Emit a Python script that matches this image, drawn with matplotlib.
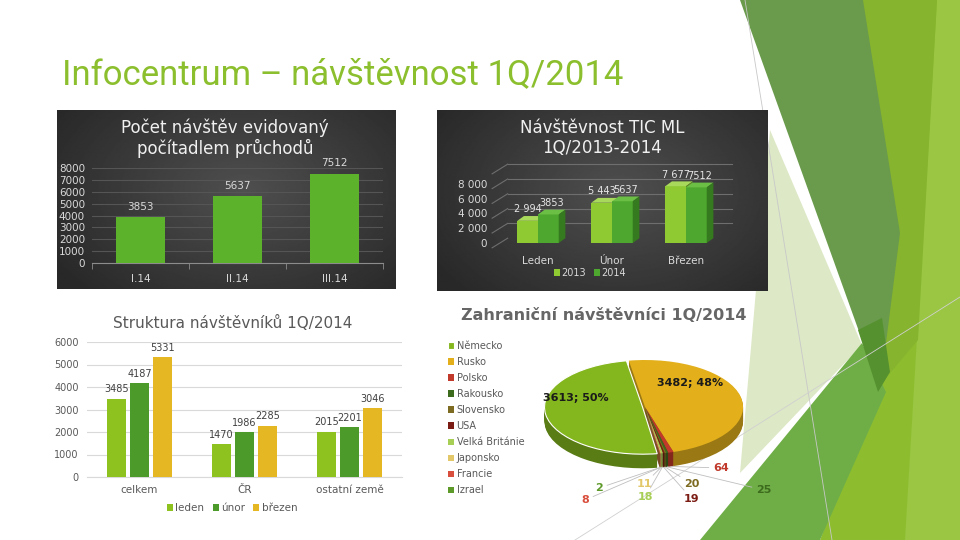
import numpy as np
import matplotlib.pyplot as plt
from matplotlib.patches import Polygon
from matplotlib.colors import to_rgb

W, H = 960, 540

# data ---------------------------------------------------------------
months_1 = ['I.14', 'II.14', 'III.14']
counter_visits = [3853, 5637, 7512]

months_2 = ['Leden', 'Únor', 'Březen']
tic_2013 = [2994, 5443, 7677]
tic_2014 = [3853, 5637, 7512]

groups_3 = ['celkem', 'ČR', 'ostatní země']
struct_leden = [3485, 1470, 2015]
struct_unor = [4187, 1986, 2201]
struct_brezen = [5331, 2285, 3046]

countries = ['Německo', 'Rusko', 'Polsko', 'Rakousko', 'Slovensko', 'USA',
             'Velká Británie', 'Japonsko', 'Francie', 'Izrael']
foreign = [3613, 3482, 64, 25, 20, 19, 18, 11, 8, 2]

# styles / layout ----------------------------------------------------
pie_colors = ['#84b61e', '#e3b01c', '#c0392b', '#3d6b1e', '#7d6b21', '#7b1c14',
              '#a8cf55', '#e3c869', '#d94f3d', '#5e9a2a']
# positions of the small pie labels in slide pixels
small_label_px = [(713, 468), (756, 490), (684, 484), (684, 499),
                  (653, 497), (652, 484), (589, 500), (603, 488)]

# decorative theme shapes (slide pixels)
deco = [
    ([(860, 0), (960, 0), (960, 540), (820, 540), (880, 385)], '#8dbd2f', 1.0),
    ([(937, 0), (960, 0), (960, 540), (905, 540)], '#9ac643', 1.0),
    ([(863, 0), (937, 0), (918, 340), (880, 385)], '#86b42e', 1.0),
    ([(740, 0), (863, 0), (900, 233), (880, 390)], '#6a9a4c', 1.0),
    ([(770, 130), (862, 345), (740, 473)], '#dde8c6', 1.0),
    ([(700, 540), (862, 343), (886, 392), (820, 540)], '#6fae47', 1.0),
    ([(858, 330), (882, 318), (890, 372), (878, 392)], '#55922f', 1.0),
]


def rect(x0, y0, x1, y1):
    return [x0 / W, 1 - y1 / H, (x1 - x0) / W, (y1 - y0) / H]


def darken(c, f):
    return tuple(np.array(to_rgb(c)) * f)


def dark_box(x0, y0, x1, y1):
    ax = fig.add_axes(rect(x0, y0, x1, y1))
    yy, xx = np.mgrid[0:1:200j, 0:1:300j]
    r = np.sqrt(((xx - 0.55) / 0.65) ** 2 + ((yy - 0.45) / 0.8) ** 2)
    ax.imshow(0.31 - 0.15 * np.clip(r, 0, 1), cmap='gray', vmin=0, vmax=1,
              aspect='auto', extent=(0, 1, 0, 1))
    ax.axis('off')
    return ax


fig = plt.figure(figsize=(9.6, 5.4), dpi=100)

# background with theme shapes
bg = fig.add_axes([0, 0, 1, 1])
bg.set_xlim(0, W)
bg.set_ylim(H, 0)
bg.axis('off')
for pts, col, a in deco:
    bg.add_patch(Polygon(pts, closed=True, fc=col, ec='none', alpha=a))
bg.plot([745, 832], [0, 540], color='#c8c8c8', lw=0.6)
bg.plot([575, 960], [540, 297], color='#d0d0d0', lw=0.6)

fig.text(62 / W, 1 - 75 / H, 'Infocentrum – návštěvnost 1Q/2014', fontsize=25,
         color='#8cbf2e', va='center', family=['Roboto', 'DejaVu Sans'])

# chart 1 ------------------------------------------------------------
dark_box(57, 110, 395, 289)
ax1 = fig.add_axes(rect(92, 168, 383, 263))
ax1.patch.set_alpha(0)
x = np.arange(len(months_1))
b1 = ax1.bar(x, counter_visits, width=0.5, color='#5db22c', zorder=3)
ax1.set_xlim(-0.5, 2.5)
ax1.set_ylim(0, 8000)
ax1.set_yticks(range(0, 8001, 1000))
ax1.yaxis.grid(True, color='#555555', lw=0.8)
ax1.set_axisbelow(True)
for s in ['top', 'right', 'left']:
    ax1.spines[s].set_visible(False)
ax1.spines['bottom'].set_color('#8c8c8c')
ax1.set_xticks(x, months_1)
ax1.set_xticks([-0.5, 0.5, 1.5, 2.5], minor=True)
ax1.tick_params(axis='y', length=0, colors='#d9d9d9', labelsize=7.5, pad=5)
ax1.tick_params(axis='x', length=0, colors='#d9d9d9', labelsize=7.5, pad=8)
ax1.tick_params(axis='x', which='minor', length=4, color='#8c8c8c')
ax1.bar_label(b1, padding=4, color='#d9d9d9', fontsize=7.5)
fig.text(225 / W, 1 - 138 / H, 'Počet návštěv evidovaný\npočítadlem průchodů',
         ha='center', va='center', fontsize=12, color='#f0f0f0', linespacing=1.1)

# chart 2 ------------------------------------------------------------
dark_box(437, 110, 768, 291)
ax2 = fig.add_axes(rect(501, 169, 723, 243))
ax2.patch.set_alpha(0)
ax2.set_xlim(-0.5, 2.5)
ax2.set_ylim(0, 10000)
w, dx, dy = 0.28, 0.09, 650
for v in range(0, 10001, 2000):
    ax2.plot([-0.62, -0.5 + dx], [v - dy, v + dy], color='#6e6e6e', lw=0.8, clip_on=False)
    if v > 0:
        ax2.plot([-0.5 + dx, 2.62], [v + dy, v + dy], color='#6e6e6e', lw=0.8, clip_on=False)

x = np.arange(len(months_2))
handles = []
for vals, off, front, top, side in [(tic_2013, -w / 2, '#8fca33', '#a9d95a', '#5f8f22'),
                                    (tic_2014, w / 2, '#4ea72e', '#6cbf45', '#357a1e')]:
    bc = ax2.bar(x + off, vals, width=w, color=front, zorder=3)
    handles.append(bc)
    for xc, v in zip(x + off, vals):
        x0, x1 = xc - w / 2, xc + w / 2
        ax2.add_patch(Polygon([(x0, v), (x1, v), (x1 + dx, v + dy), (x0 + dx, v + dy)],
                              fc=top, zorder=3, clip_on=False))
        ax2.add_patch(Polygon([(x1, 0), (x1 + dx, dy), (x1 + dx, v + dy), (x1, v)],
                              fc=side, zorder=3, clip_on=False))
for xc, v in zip(x - w / 2, tic_2013):
    ax2.text(xc, v + dy + 250, f'{v:,}'.replace(',', ' '), ha='center', va='bottom',
             fontsize=7, color='#e6e6e6', zorder=5)
for xc, v in zip(x + w / 2, tic_2014):
    ax2.text(xc + dx / 2, v + dy + 250, f'{v}', ha='center', va='bottom',
             fontsize=7, color='#e6e6e6', zorder=5)
for s in ax2.spines.values():
    s.set_visible(False)
ax2.set_yticks(range(0, 8001, 2000), [f'{v:,}'.replace(',', ' ') for v in range(0, 8001, 2000)])
ax2.set_xticks(x, months_2)
ax2.tick_params(axis='y', length=0, colors='#d9d9d9', labelsize=7.5, pad=10)
ax2.tick_params(axis='x', length=0, colors='#d9d9d9', labelsize=7.5, pad=9)
ax2.legend(handles, ['2013', '2014'], loc='center', bbox_to_anchor=(590 / W, 1 - 273 / H),
           bbox_transform=fig.transFigure, ncol=2, frameon=False, fontsize=7,
           labelcolor='#d9d9d9', handlelength=0.6, handleheight=0.6, handletextpad=0.2,
           columnspacing=0.8)
fig.text(602 / W, 1 - 138 / H, 'Návštěvnost TIC ML\n1Q/2013-2014',
         ha='center', va='center', fontsize=12, color='#f0f0f0', linespacing=1.1)

# chart 3 ------------------------------------------------------------
ax3 = fig.add_axes(rect(87, 342, 402, 477))
ax3.patch.set_alpha(0)
x = np.arange(len(groups_3))
bw = 0.175
for vals, off, col, lab in [(struct_leden, -0.22, '#8dc21f', 'leden'),
                            (struct_unor, 0.0, '#4c9a2a', 'únor'),
                            (struct_brezen, 0.22, '#e5b823', 'březen')]:
    bc = ax3.bar(x + off, vals, width=bw, color=col, label=lab, zorder=3)
    ax3.bar_label(bc, padding=3, fontsize=7, color='#404040')
ax3.set_xlim(-0.5, 2.5)
ax3.set_ylim(0, 6000)
ax3.set_yticks(range(0, 6001, 1000))
ax3.yaxis.grid(True, color='#d9d9d9', lw=0.8)
ax3.set_axisbelow(True)
for s in ['top', 'right', 'left']:
    ax3.spines[s].set_visible(False)
ax3.spines['bottom'].set_color('#d9d9d9')
ax3.set_xticks(x, groups_3)
ax3.tick_params(axis='y', length=0, colors='#595959', labelsize=7, pad=6)
ax3.tick_params(axis='x', length=0, colors='#595959', labelsize=7.5, pad=6)
ax3.legend(loc='center', bbox_to_anchor=(232 / W, 1 - 508 / H), bbox_transform=fig.transFigure,
           ncol=3, frameon=False, fontsize=7.5, labelcolor='#595959', handlelength=0.6,
           handleheight=0.6, handletextpad=0.2, columnspacing=0.8)
fig.text(233 / W, 1 - 323 / H, 'Struktura návštěvníků 1Q/2014', ha='center', va='center',
         fontsize=11, color='#595959')

# chart 4 (3D-looking pie) -------------------------------------------
axp = fig.add_axes(rect(543, 345, 747, 525))
total = sum(foreign)
start = -81.4
depth = 0.30
explode = [0.025] + [0] * (len(foreign) - 1)
side_colors = [darken(c, 0.68) for c in pie_colors]
for off in np.linspace(-depth, -0.02, 15):
    axp.pie(foreign, colors=side_colors, startangle=start, counterclock=False,
            center=(0, off), explode=explode, wedgeprops=dict(linewidth=0))
wedges, _ = axp.pie(foreign, colors=pie_colors, startangle=start, counterclock=False,
                    explode=explode, wedgeprops=dict(linewidth=0))
wedges[0].set_edgecolor('white')
wedges[0].set_linewidth(0.8)
axp.set_aspect('auto')
axp.set_xlim(-1.04, 1.04)
axp.set_ylim(-(525 - 407) / 47, (407 - 345) / 47)

axp.text(-0.71, 0.19, f'{foreign[0]}; {round(100 * foreign[0] / total)}%', ha='center',
         va='center', fontsize=8, fontweight='bold', color='#1a1a1a')
axp.text(0.46, 0.51, f'{foreign[1]}; {round(100 * foreign[1] / total)}%', ha='center',
         va='center', fontsize=8, fontweight='bold', color='#1a1a1a')

cum = np.cumsum([0] + foreign[:-1])
mids = start - 360 * (cum + np.array(foreign) / 2) / total
for i in range(2, len(foreign)):
    m = np.deg2rad(mids[i])
    rim = (np.cos(m), np.sin(m) - depth)
    lx, ly = small_label_px[i - 2]
    rim_px = 644.5 + rim[0] * 98
    ha = 'right' if lx < rim_px else 'left'
    axp.annotate(str(foreign[i]), xy=rim, xytext=(lx, H - ly), textcoords='figure pixels',
                 ha=ha, va='center', fontsize=8, fontweight='bold', color=pie_colors[i],
                 annotation_clip=False,
                 arrowprops=dict(arrowstyle='-', color='#bfbfbf', lw=0.6, shrinkA=1, shrinkB=0))

fig.legend(wedges, countries, loc='upper left', bbox_to_anchor=(443 / W, 1 - 336 / H),
           frameon=False, fontsize=7, labelcolor='#595959', handlelength=0.6,
           handleheight=0.6, handletextpad=0.3, labelspacing=0.62, borderpad=0)
fig.text(604 / W, 1 - 316 / H, 'Zahraniční návštěvníci 1Q/2014', ha='center', va='center',
         fontsize=11.5, fontweight='bold', color='#666666')

fig.savefig('out.png', dpi=100)
